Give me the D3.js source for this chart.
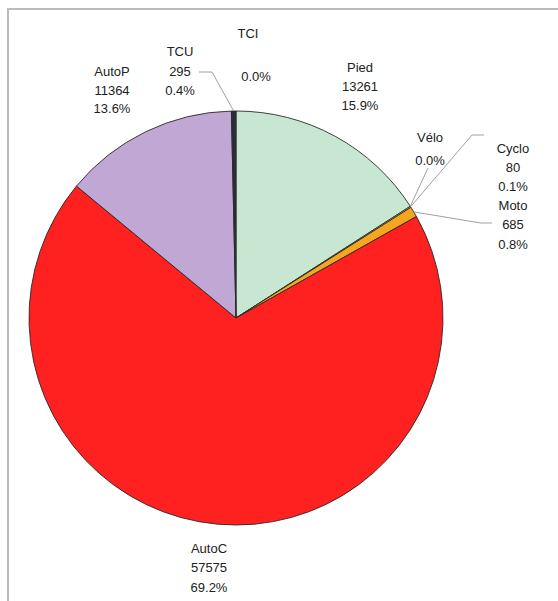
<!DOCTYPE html>
<html>
<head>
<meta charset="utf-8">
<script src="https://cdn.jsdelivr.net/npm/d3@7/dist/d3.min.js"></script>
<style>
  html, body { margin: 0; padding: 0; background: #fff; }
  svg { display: block; }
  text { font-family: "Liberation Sans", Arial, sans-serif; font-size: 13px; fill: #222; }
</style>
</head>
<body>
<svg id="chart" width="558" height="601"></svg>
<script>
// Trips by transport mode
const categories = ["TCI", "Pied", "Vélo", "Cyclo", "Moto", "AutoC", "AutoP", "TCU"];
const trips      = [0, 13261, 0, 80, 685, 57575, 11364, 295];
const sliceColors = ["#3a3a4a", "#c8e7d3", "#9fd0b0", "#e8d35a", "#f6a51f", "#ff2020", "#c1a8d4", "#2c2c3c"];

// Label placement: centre x, line centres y, leader line waypoints (outside -> pie edge)
const labelLayout = {
  "TCI":   { x: 248, ys: [33, 54.5, 76], leader: null, pctX: 256 },
  "Pied":  { x: 360, ys: [67, 86, 105], leader: null },
  "Vélo":  { x: 430, ys: [137, 160], leader: [[428, 168]] },
  "Cyclo": { x: 513, ys: [148, 167, 186], leader: [[484, 135], [472, 135]] },
  "Moto":  { x: 513, ys: [205, 224, 244], leader: [[492, 223], [481, 223]] },
  "AutoC": { x: 209, ys: [548, 567, 587], leader: null },
  "AutoP": { x: 112, ys: [71, 90, 108], leader: null },
  "TCU":   { x: 180, ys: [51, 71, 90], leader: [[199, 72], [212, 72]] }
};

const svg = d3.select("#chart");
const cx = 236, cy = 318, r = 207;
const total = d3.sum(trips);
const fmtPct = d3.format(".1%");

// outer frame
svg.append("rect")
  .attr("x", 8).attr("y", 9).attr("width", 620).attr("height", 660)
  .attr("fill", "#fff").attr("stroke", "#bcbcbc").attr("stroke-width", 2);

const data = categories.map((c, i) => ({ name: c, value: trips[i], color: sliceColors[i] }));
const pie = d3.pie().value(d => d.value).sort(null).startAngle(0).endAngle(2 * Math.PI);
const arcs = pie(data);
const arc = d3.arc().innerRadius(0).outerRadius(r);

const g = svg.append("g").attr("transform", `translate(${cx},${cy})`);
g.selectAll("path.slice")
  .data(arcs.filter(a => a.data.value > 0))
  .join("path")
  .attr("class", "slice")
  .attr("d", arc)
  .attr("fill", d => d.data.color)
  .attr("stroke", "#2a2a2a")
  .attr("stroke-width", 0.9)
  .attr("stroke-linejoin", "round");

// leader lines from label to the slice's mid-angle on the rim
arcs.forEach(a => {
  const L = labelLayout[a.data.name];
  if (!L.leader) return;
  const mid = (a.startAngle + a.endAngle) / 2;
  const rim = [cx + Math.sin(mid) * r, cy - Math.cos(mid) * r];
  const pts = L.leader.concat([rim]);
  svg.append("path")
    .attr("d", d3.line()(pts))
    .attr("fill", "none")
    .attr("stroke", "#a0a0a0")
    .attr("stroke-width", 1);
});

// labels: name / value / share
arcs.forEach(a => {
  const L = labelLayout[a.data.name];
  const v = a.data.value;
  let lines = v > 0
    ? [a.data.name, String(v), fmtPct(v / total)]
    : (L.ys.length === 3 ? [a.data.name, "", fmtPct(0)] : [a.data.name, fmtPct(0)]);
  lines.forEach((t, i) => {
    if (!t) return;
    const isPct = i === lines.length - 1;
    svg.append("text")
      .attr("x", isPct && L.pctX ? L.pctX : L.x)
      .attr("y", L.ys[i])
      .attr("dy", "0.35em")
      .attr("text-anchor", "middle")
      .text(t);
  });
});
</script>
</body>
</html>
